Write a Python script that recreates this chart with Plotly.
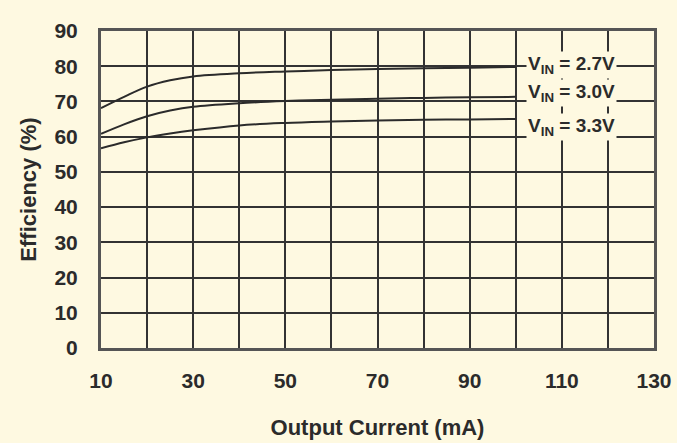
import plotly.graph_objects as go

current = [10, 15, 20, 25, 30, 40, 50, 60, 70, 80, 90, 100]
eff_27 = [68.1, 71.3, 74.2, 76.0, 77.1, 78.0, 78.5, 78.9, 79.2, 79.4, 79.6, 79.8]
eff_30 = [60.8, 63.5, 65.8, 67.4, 68.5, 69.5, 70.1, 70.5, 70.8, 71.0, 71.2, 71.3]
eff_33 = [56.7, 58.4, 59.8, 60.9, 61.8, 63.2, 63.9, 64.3, 64.6, 64.8, 64.9, 65.0]
labels = ["V<sub>IN</sub> = 2.7V", "V<sub>IN</sub> = 3.0V", "V<sub>IN</sub> = 3.3V"]
label_y = [80.3, 72.3, 62.8]
label_x = 112

x_ticks = list(range(10, 131, 10))
x_text = [str(v) if (v - 10) % 20 == 0 else "" for v in x_ticks]
y_ticks = list(range(0, 91, 10))

BG = "#FEF9E1"
INK = "#2b2b2b"
FONT = "Liberation Sans, Arial"

fig = go.Figure()
for ys in (eff_27, eff_30, eff_33):
    fig.add_trace(go.Scatter(x=current, y=ys, mode="lines", line=dict(color=INK, width=2, shape="spline"),
                             showlegend=False, hoverinfo="skip"))

for txt, yv in zip(labels, label_y):
    fig.add_annotation(x=label_x, y=yv, text=txt, showarrow=False, bgcolor=BG,
                       font=dict(family=FONT, size=19, color=INK, weight="bold"),
                       borderpad=1)

fig.update_layout(
    width=677, height=443, paper_bgcolor=BG, plot_bgcolor=BG,
    margin=dict(l=101, r=23, t=31, b=95),
    font=dict(family=FONT, color=INK),
)
fig.update_xaxes(range=[10, 130], tickvals=x_ticks, ticktext=x_text, showgrid=True, automargin=False,
                 gridcolor="#333", gridwidth=1.5, showline=True, mirror=True, linecolor="#555",
                 linewidth=3, ticks="", zeroline=False, ticklabelstandoff=12,
                 tickfont=dict(size=21, weight="bold", color=INK),
                 title=dict(text="Output Current (mA)", font=dict(size=22, weight="bold", color=INK), standoff=29))
fig.update_yaxes(range=[0, 90], tickvals=y_ticks, showgrid=True, automargin=False,
                 gridcolor="#333", gridwidth=1.5, showline=True, mirror=True, linecolor="#555",
                 linewidth=3, ticks="", zeroline=False, ticklabelstandoff=16,
                 tickfont=dict(size=21, weight="bold", color=INK),
                 title=dict(text="Efficiency (%)", font=dict(size=22, weight="bold", color=INK), standoff=12))

fig.write_html("out.html")
